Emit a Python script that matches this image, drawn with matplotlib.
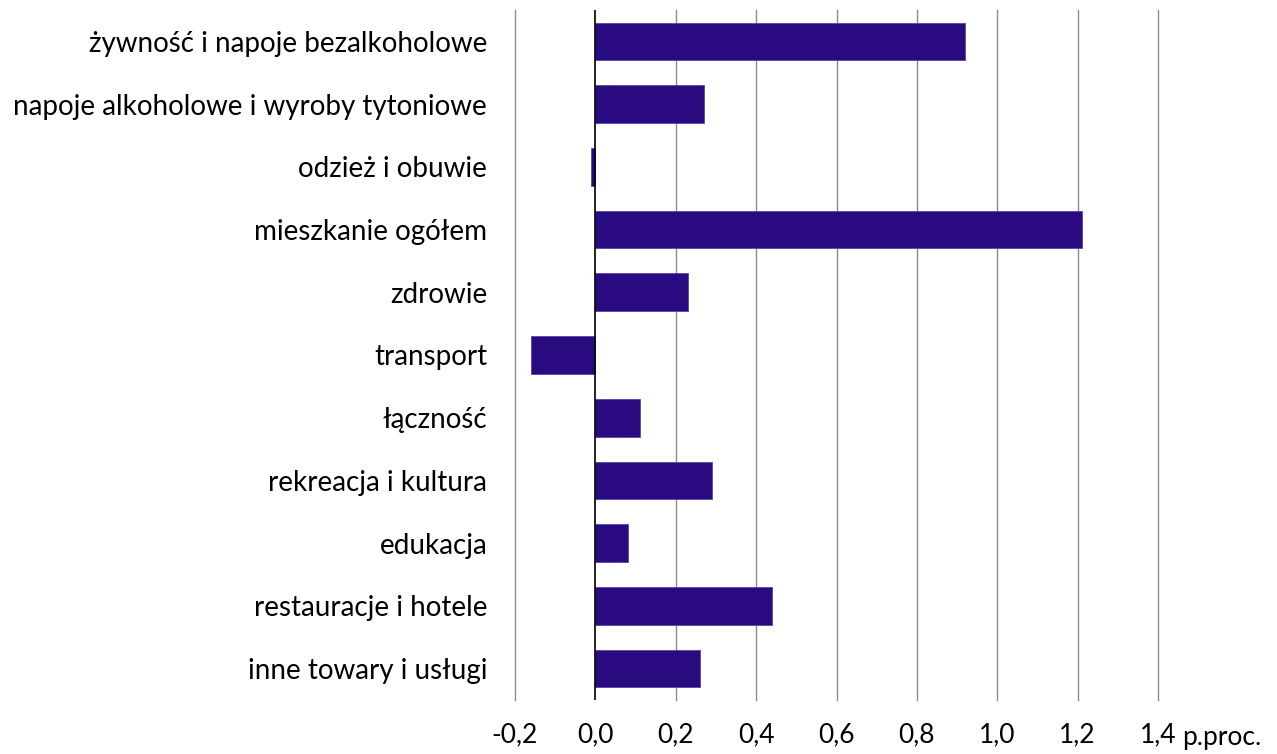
import matplotlib
matplotlib.use("Agg")
import matplotlib.pyplot as plt
import matplotlib.transforms as mtransforms
import numpy as np

plt.rcParams['font.family'] = ['Lato', 'DejaVu Sans']

categories = ["żywność i napoje bezalkoholowe", "napoje alkoholowe i wyroby tytoniowe",
              "odzież i obuwie", "mieszkanie ogółem", "zdrowie", "transport", "łączność",
              "rekreacja i kultura", "edukacja", "restauracje i hotele", "inne towary i usługi"]
values = [0.92, 0.27, -0.01, 1.21, 0.23, -0.16, 0.11, 0.29, 0.08, 0.44, 0.26]
xticks = [-0.2, 0.0, 0.2, 0.4, 0.6, 0.8, 1.0, 1.2, 1.4]

fig = plt.figure(figsize=(12.77, 7.54), dpi=100)
ax = fig.add_axes([515 / 1277, 1 - 700 / 754, (1158 - 515) / 1277, 690 / 754])

y = np.arange(len(categories))
ax.barh(y, values, height=0.6, color='#2a0a80', edgecolor='#5a44a8', linewidth=0.6, zorder=3)

ax.set_xlim(-0.2, 1.4)
ax.set_ylim(len(categories) - 0.5, -0.5)
ax.set_yticks(y)
ax.set_yticklabels(categories, fontsize=20)
ax.set_xticks(xticks)
ax.set_xticklabels([f"{t:.1f}".replace('.', ',') for t in xticks], fontsize=19)
ax.tick_params(axis='both', length=0)
ax.tick_params(axis='y', pad=20)
ax.tick_params(axis='x', pad=16)

for t in xticks:
    if t == 0.0:
        ax.axvline(t, color='black', linewidth=1.2, zorder=4)
    else:
        ax.axvline(t, color='#8c8c8c', linewidth=1.0, zorder=1, clip_on=False)

for s in ax.spines.values():
    s.set_visible(False)

trans = mtransforms.blended_transform_factory(ax.transData, ax.transAxes)
ax.text(1.46, -0.0652, "p.proc.", transform=trans, ha='left', va='baseline', fontsize=19)

fig.savefig("out.png", dpi=100)
